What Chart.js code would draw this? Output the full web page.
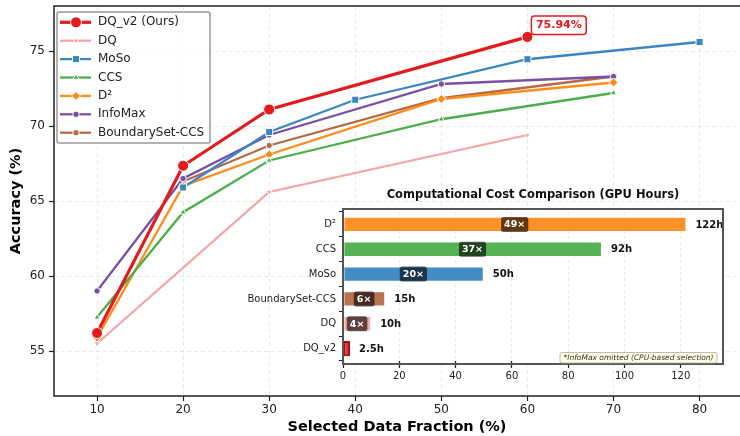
<!DOCTYPE html>
<html>
<head>
<meta charset="utf-8">
<script src="https://cdn.jsdelivr.net/npm/chart.js@4.4.0/dist/chart.umd.min.js"></script>
<style>
body{margin:0;background:#fff}
#wrap{position:relative;width:740px;height:436px;overflow:hidden}
#main{position:absolute;left:0;top:0}
#inset{position:absolute;left:240px;top:185px}
</style>
</head>
<body>
<div id="wrap">
<canvas id="main" width="740" height="436"></canvas>
<canvas id="inset" width="490" height="200"></canvas>
</div>
<script>
// accuracy vs selected data fraction
const fracDQv2 = [10, 20, 30, 60]
const accDQv2 = [56.2, 67.35, 71.1, 75.94]
const fracDQ = [10, 30, 60]
const accDQ = [55.5, 65.6, 69.4]
const fracMoSo = [20, 30, 40, 60, 80]
const accMoSo = [65.9, 69.6, 71.75, 74.45, 75.6]
const fracCCS = [10, 20, 30, 50, 70]
const accCCS = [57.25, 64.25, 67.7, 70.45, 72.2]
const fracD2 = [10, 20, 30, 50, 70]
const accD2 = [55.9, 66.0, 68.1, 71.8, 72.9]
const fracInfoMax = [10, 20, 30, 50, 70]
const accInfoMax = [59.0, 66.5, 69.4, 72.8, 73.3]
const fracBoundary = [20, 30, 50, 70]
const accBoundary = [66.3, 68.7, 71.85, 73.3]
const xTicks = [10, 20, 30, 40, 50, 60, 70, 80]
const yTicks = [55, 60, 65, 70, 75]

// inset: GPU hours
const costLabels = ['D²', 'CCS', 'MoSo', 'BoundarySet-CCS', 'DQ', 'DQ_v2']
const gpuHours = [122, 92, 50, 15, 10, 2.5]
const speedups = ['49×', '37×', '20×', '6×', '4×', '']
const costTicks = [0, 20, 40, 60, 80, 100, 120]

const RED = '#e41a1c', PINK = '#f7a3a3', BLUE = '#3a86c0', GREEN = '#4daf4a',
      ORANGE = '#ff8c1a', PURPLE = '#7b4fa3', BROWN = '#b36b47'

Chart.defaults.font.family = 'DejaVu Sans'
Chart.defaults.color = '#222'

function series(label, xs, ys, color, opts) {
    return Object.assign({
        label: label,
        data: xs.map((x, i) => ({x: x, y: ys[i]})),
        borderColor: color,
        backgroundColor: color,
        pointBackgroundColor: color,
        pointBorderColor: '#fff',
        pointBorderWidth: 1,
        borderWidth: 2.3,
        pointRadius: 3.5,
        pointStyle: 'circle',
        pointRotation: 0,
        tension: 0
    }, opts)
}

function rrect(ctx, x, y, w, h, r) {
    ctx.beginPath()
    ctx.moveTo(x + r, y)
    ctx.lineTo(x + w - r, y)
    ctx.arcTo(x + w, y, x + w, y + r, r)
    ctx.lineTo(x + w, y + h - r)
    ctx.arcTo(x + w, y + h, x + w - r, y + h, r)
    ctx.lineTo(x + r, y + h)
    ctx.arcTo(x, y + h, x, y + h - r, r)
    ctx.lineTo(x, y + r)
    ctx.arcTo(x, y, x + r, y, r)
    ctx.closePath()
}

const mainDecor = {
    id: 'mainDecor',
    afterDraw(chart) {
        const ctx = chart.ctx, ca = chart.chartArea
        ctx.save()
        // frame
        ctx.strokeStyle = '#222'
        ctx.lineWidth = 1.5
        ctx.beginPath()
        ctx.moveTo(chart.width + 2, ca.top)
        ctx.lineTo(ca.left, ca.top)
        ctx.lineTo(ca.left, ca.bottom)
        ctx.lineTo(chart.width + 2, ca.bottom)
        ctx.stroke()

        // legend
        ctx.fillStyle = 'rgba(255,255,255,0.92)'
        ctx.strokeStyle = '#999'
        ctx.lineWidth = 1.5
        rrect(ctx, 57, 12, 153, 131, 2)
        ctx.fill()
        ctx.stroke()
        chart.data.datasets.forEach((ds, i) => {
            const y = 22.3 + i * 18.4
            ctx.strokeStyle = ds.borderColor
            ctx.lineWidth = ds.borderWidth
            ctx.beginPath()
            ctx.moveTo(60, y)
            ctx.lineTo(91, y)
            ctx.stroke()
            ctx.fillStyle = ds.borderColor
            ctx.strokeStyle = '#fff'
            ctx.lineWidth = 1
            Chart.helpers.drawPoint(ctx, {pointStyle: ds.pointStyle, rotation: ds.pointRotation, radius: ds.pointRadius, borderWidth: 1}, 76, y)
            ctx.fillStyle = '#222'
            ctx.font = '12px DejaVu Sans'
            ctx.textBaseline = 'middle'
            ctx.textAlign = 'left'
            ctx.fillText(ds.label, 98, y)
        })

        // best point annotation
        const pt = chart.getDatasetMeta(0).data[3]
        const txt = accDQv2[3].toFixed(2) + '%'
        ctx.font = 'bold 11px DejaVu Sans'
        const w = ctx.measureText(txt).width + 9
        rrect(ctx, pt.x + 4, pt.y - 21, w, 18.6, 3)
        ctx.fillStyle = '#fff'
        ctx.fill()
        ctx.strokeStyle = RED
        ctx.lineWidth = 1.5
        ctx.stroke()
        ctx.fillStyle = RED
        ctx.textAlign = 'center'
        ctx.textBaseline = 'middle'
        ctx.fillText(txt, pt.x + 4 + w / 2, pt.y - 11.5)
        ctx.restore()
    }
}

new Chart(document.getElementById('main'), {
    type: 'line',
    data: {
        datasets: [
            series('DQ_v2 (Ours)', fracDQv2, accDQv2, RED, {borderWidth: 3.2, pointRadius: 5.5}),
            series('DQ', fracDQ, accDQ, PINK, {pointStyle: 'triangle', pointRotation: 180, pointRadius: 3.5}),
            series('MoSo', fracMoSo, accMoSo, BLUE, {pointStyle: 'rect', pointRadius: 5}),
            series('CCS', fracCCS, accCCS, GREEN, {pointStyle: 'triangle', pointRadius: 3.5}),
            series('D²', fracD2, accD2, ORANGE, {pointStyle: 'rectRot', pointRadius: 4.5}),
            series('InfoMax', fracInfoMax, accInfoMax, PURPLE, {pointRadius: 3.2}),
            series('BoundarySet-CCS', fracBoundary, accBoundary, BROWN, {pointRadius: 3.2})
        ]
    },
    options: {
        responsive: false,
        animation: false,
        layout: {autoPadding: false, padding: {top: 6, right: 0, left: 0, bottom: 0}},
        plugins: {legend: {display: false}, tooltip: {enabled: false}},
        scales: {
            x: {
                type: 'linear', min: 5, max: 84.7,
                afterBuildTicks: s => { s.ticks = xTicks.map(v => ({value: v})) },
                afterFit: s => { s.height = 40 },
                grid: {color: '#e2e2e2', lineWidth: 0.8, tickColor: '#222', tickLength: 5, tickWidth: 1.2},
                border: {display: false, dash: [4, 3]},
                ticks: {font: {size: 12}, padding: 2, color: '#222'},
                title: {display: true, text: 'Selected Data Fraction (%)', color: '#000', font: {size: 14.5, weight: 'bold'}, padding: 0}
            },
            y: {
                min: 52, max: 78,
                afterBuildTicks: s => { s.ticks = yTicks.map(v => ({value: v})) },
                afterFit: s => { s.width = 54; s.paddingTop = 0; s.paddingBottom = 0 },
                grid: {color: '#e2e2e2', lineWidth: 0.8, tickColor: '#222', tickLength: 5, tickWidth: 1.2},
                border: {display: false, dash: [4, 3]},
                ticks: {font: {size: 12}, padding: 4, color: '#222'},
                title: {display: true, text: 'Accuracy (%)', color: '#000', font: {size: 14.5, weight: 'bold'}, padding: {top: 8, bottom: 0}}
            }
        }
    },
    plugins: [mainDecor]
})

const insetDecor = {
    id: 'insetDecor',
    beforeDraw(chart) {
        const ctx = chart.ctx, ca = chart.chartArea
        ctx.save()
        ctx.fillStyle = '#fff'
        ctx.fillRect(ca.left, ca.top - 3, ca.right - ca.left, ca.bottom - ca.top + 6)
        ctx.fillStyle = '#111'
        ctx.font = 'bold 11.5px DejaVu Sans'
        ctx.textAlign = 'center'
        ctx.textBaseline = 'middle'
        ctx.fillText('Computational Cost Comparison (GPU Hours)', (ca.left + ca.right) / 2, 10)
        ctx.restore()
    },
    afterDatasetsDraw(chart) {
        const ctx = chart.ctx
        const xs = chart.scales.x
        const bars = chart.getDatasetMeta(0).data
        ctx.save()
        ctx.textBaseline = 'middle'
        bars.forEach((b, i) => {
            ctx.fillStyle = '#111'
            ctx.font = 'bold 10px DejaVu Sans'
            ctx.textAlign = 'left'
            ctx.fillText(gpuHours[i] + 'h', b.x + 9, b.y + 0.5)
            if (speedups[i]) {
                ctx.font = 'bold 9.5px DejaVu Sans'
                const cx = xs.getPixelForValue(gpuHours[i] / 2)
                const w = ctx.measureText(speedups[i]).width + 6
                rrect(ctx, cx - w / 2, b.y - 7.5, w, 15, 2.5)
                ctx.fillStyle = 'rgba(0,0,0,0.62)'
                ctx.fill()
                ctx.fillStyle = '#fff'
                ctx.textAlign = 'center'
                ctx.fillText(speedups[i], cx, b.y + 0.5)
            }
        })
        ctx.restore()
    },
    afterDraw(chart) {
        const ctx = chart.ctx, ca = chart.chartArea
        ctx.save()
        ctx.strokeStyle = '#555'
        ctx.lineWidth = 2
        ctx.strokeRect(ca.left, ca.top - 3, ca.right - ca.left, ca.bottom - ca.top + 6)
        const note = '*InfoMax omitted (CPU-based selection)'
        ctx.font = 'italic 7.5px DejaVu Sans'
        const w = ctx.measureText(note).width + 7
        const x0 = ca.right - 6 - w, y0 = ca.bottom - 8.5
        rrect(ctx, x0, y0, w, 10.5, 2)
        ctx.fillStyle = '#fffde3'
        ctx.fill()
        ctx.strokeStyle = '#aaa'
        ctx.lineWidth = 0.8
        ctx.stroke()
        ctx.fillStyle = '#333'
        ctx.textAlign = 'left'
        ctx.textBaseline = 'middle'
        ctx.fillText(note, x0 + 3.5, y0 + 5.5)
        ctx.restore()
    }
}

new Chart(document.getElementById('inset'), {
    type: 'bar',
    data: {
        labels: costLabels,
        datasets: [{
            data: gpuHours,
            backgroundColor: ['rgba(255,140,26,0.95)', 'rgba(77,175,74,0.95)', 'rgba(58,134,192,0.95)',
                              'rgba(179,107,71,0.95)', 'rgba(247,163,163,0.95)', 'rgba(228,40,40,0.95)'],
            borderColor: ['rgba(255,255,255,0.5)', 'rgba(255,255,255,0.5)', 'rgba(255,255,255,0.5)',
                          'rgba(255,255,255,0.5)', 'rgba(255,255,255,0.5)', '#a50f15'],
            borderWidth: [1, 1, 1, 1, 1, 2],
            borderSkipped: false,
            categoryPercentage: 1,
            barPercentage: 0.62
        }]
    },
    options: {
        indexAxis: 'y',
        responsive: false,
        animation: false,
        layout: {padding: {top: 27, right: 7, left: 0, bottom: 0}},
        plugins: {legend: {display: false}, tooltip: {enabled: false}},
        scales: {
            x: {
                min: 0, max: 135,
                afterBuildTicks: s => { s.ticks = costTicks.map(v => ({value: v})) },
                afterFit: s => { s.height = 24 },
                grid: {color: '#e2e2e2', lineWidth: 0.8, tickColor: '#222', tickLength: 7, tickWidth: 1.2},
                border: {display: false, dash: [3, 3]},
                ticks: {font: {size: 10}, padding: 2, color: '#222'}
            },
            y: {
                afterFit: s => { s.width = 103 },
                grid: {drawOnChartArea: false, tickColor: '#222', tickLength: 4, tickWidth: 1},
                border: {display: false},
                ticks: {font: {size: 10}, padding: 3, color: '#222'}
            }
        }
    },
    plugins: [insetDecor]
})
</script>
</body>
</html>
